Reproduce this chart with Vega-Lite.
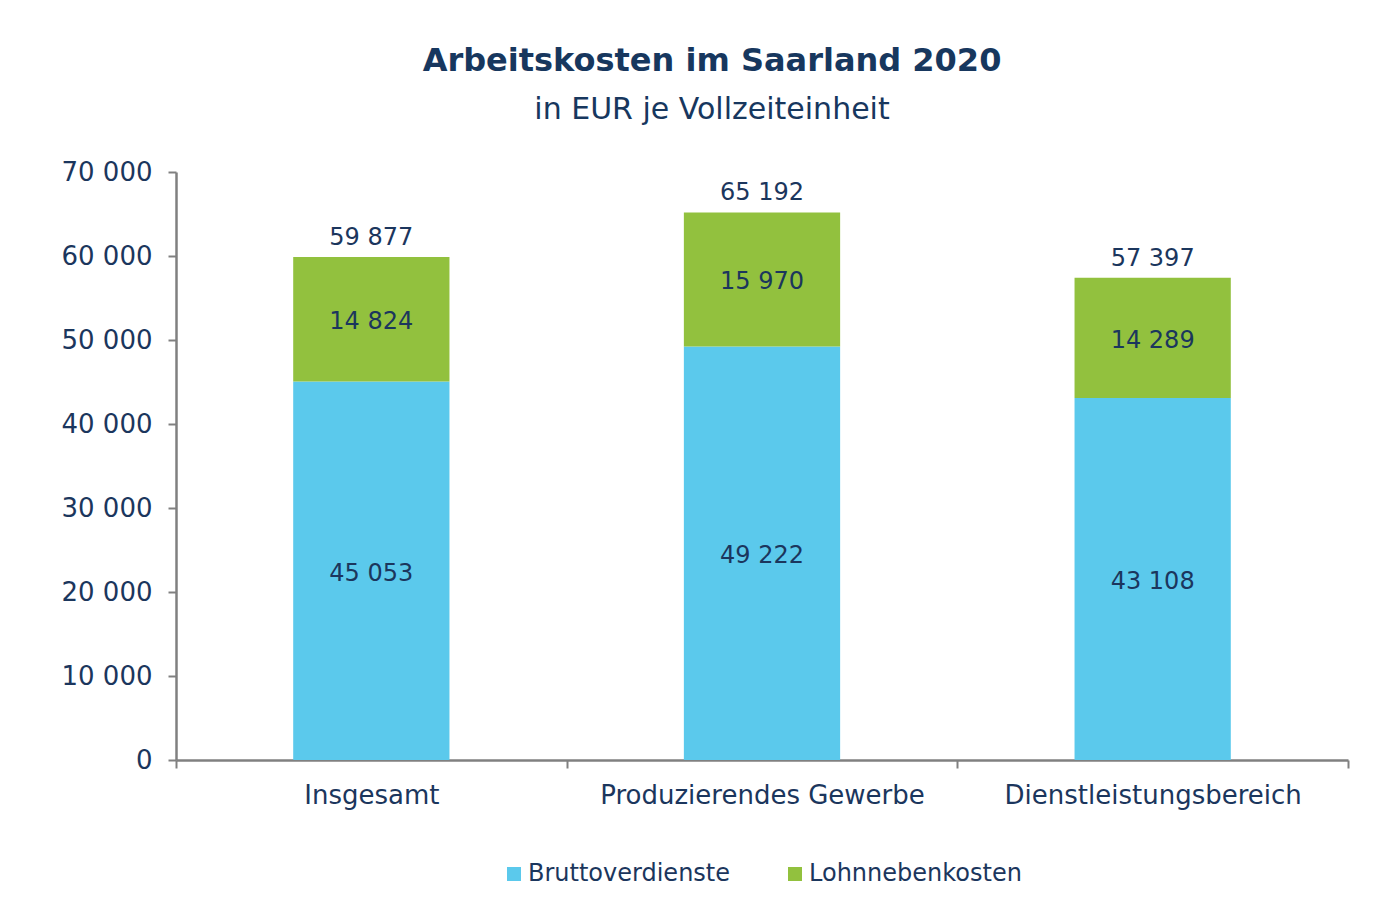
{
  "$schema": "https://vega.github.io/schema/vega-lite/v6.json",
  "autosize": {"type": "none"},
  "width": 1172,
  "height": 588,
  "padding": {"left": 176, "top": 172, "right": 27, "bottom": 147},
  "background": "white",
  "config": {
    "font": "DejaVu Sans",
    "view": {"stroke": null},
    "legend": {"layout": {"bottom": {"anchor": "middle"}}},
    "locale": {"number": {"decimal": ",", "thousands": " ", "grouping": [3], "currency": ["", " €"]}}
  },
  "title": {
    "text": "Arbeitskosten im Saarland 2020",
    "subtitle": "in EUR je Vollzeiteinheit",
    "anchor": "middle",
    "dx": -50,
    "offset": 33,
    "font": "DejaVu Sans",
    "fontSize": 32,
    "fontWeight": "bold",
    "color": "#17375E",
    "subtitleFont": "DejaVu Sans",
    "subtitleFontSize": 30,
    "subtitleColor": "#17375E",
    "subtitlePadding": 17
  },
  "data": {
    "values": [
      {"cat": "Insgesamt", "series": "Bruttoverdienste", "value": 45053},
      {"cat": "Insgesamt", "series": "Lohnnebenkosten", "value": 14824},
      {"cat": "Produzierendes Gewerbe", "series": "Bruttoverdienste", "value": 49222},
      {"cat": "Produzierendes Gewerbe", "series": "Lohnnebenkosten", "value": 15970},
      {"cat": "Dienstleistungsbereich", "series": "Bruttoverdienste", "value": 43108},
      {"cat": "Dienstleistungsbereich", "series": "Lohnnebenkosten", "value": 14289}
    ]
  },
  "transform": [
    {"stack": "value", "groupby": ["cat"], "sort": [{"field": "series", "order": "ascending"}], "as": ["v0", "v1"]}
  ],
  "encoding": {
    "x": {
      "field": "cat",
      "type": "nominal",
      "sort": ["Insgesamt", "Produzierendes Gewerbe", "Dienstleistungsbereich"],
      "scale": {"paddingInner": 0, "paddingOuter": 0},
      "axis": {
        "title": null,
        "labelAngle": 0,
        "labelFontSize": 26,
        "labelColor": "#1B365D",
        "labelPadding": 14,
        "labelLimit": 0,
        "tickBand": "extent",
        "tickSize": 8,
        "tickWidth": 2,
        "tickColor": "#808080",
        "domainColor": "#808080",
        "domainWidth": 2.5
      }
    }
  },
  "layer": [
    {
      "mark": {"type": "bar", "width": {"band": 0.4}},
      "encoding": {
        "y": {
          "field": "v0",
          "type": "quantitative",
          "scale": {"domain": [0, 70000]},
          "axis": {
            "title": null,
            "values": [0, 10000, 20000, 30000, 40000, 50000, 60000, 70000],
            "format": ",d",
            "grid": false,
            "labelFontSize": 26,
            "labelColor": "#1B365D",
            "labelPadding": 16,
            "tickSize": 8,
            "tickWidth": 2,
            "tickColor": "#808080",
            "domainColor": "#808080",
            "domainWidth": 2.5
          }
        },
        "y2": {"field": "v1"},
        "color": {
          "field": "series",
          "type": "nominal",
          "scale": {"domain": ["Bruttoverdienste", "Lohnnebenkosten"], "range": ["#5BC9EC", "#92C13E"]},
          "legend": {
            "title": null,
            "orient": "bottom",
            "direction": "horizontal",
            "offset": 54,
            "symbolType": "square",
            "symbolSize": 196,
            "symbolStrokeWidth": 0,
            "labelFontSize": 24,
            "labelColor": "#1B365D",
            "labelOffset": 2,
            "labelLimit": 0,
            "columnPadding": 52
          }
        }
      }
    },
    {
      "transform": [
        {"fold": ["v0", "v1"], "as": ["k", "pos"]},
        {"aggregate": [{"op": "mean", "field": "pos", "as": "mid"}], "groupby": ["cat", "series", "value"]}
      ],
      "mark": {"type": "text", "fontSize": 24, "color": "#1B365D", "baseline": "middle", "dy": 3},
      "encoding": {
        "y": {"field": "mid", "type": "quantitative"},
        "text": {"field": "value", "type": "quantitative", "format": ",d"}
      }
    },
    {
      "transform": [
        {"aggregate": [{"op": "max", "field": "v1", "as": "total"}], "groupby": ["cat"]}
      ],
      "mark": {"type": "text", "fontSize": 24, "color": "#1B365D", "baseline": "bottom", "dy": -7},
      "encoding": {
        "y": {"field": "total", "type": "quantitative"},
        "text": {"field": "total", "type": "quantitative", "format": ",d"}
      }
    }
  ]
}
